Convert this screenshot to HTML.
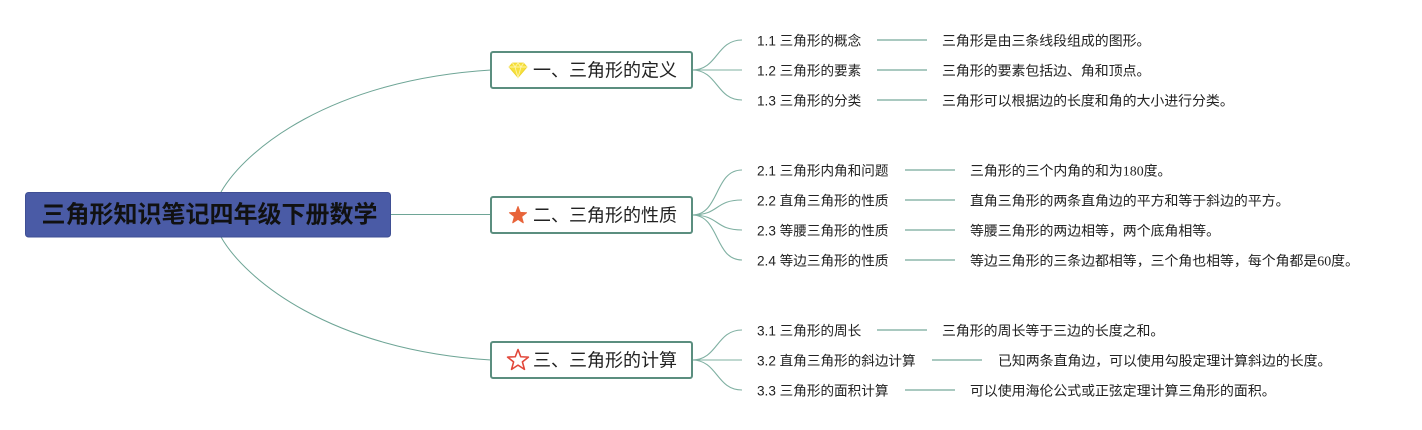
<!DOCTYPE html>
<html>
<head>
<meta charset="utf-8">
<style>
  html,body{margin:0;padding:0;background:#fff;}
  body{width:1422px;height:430px;overflow:hidden;}
  svg{display:block;}
  .c{font-family:"Liberation Sans","Noto Sans CJK SC",sans-serif;font-size:13.6px;fill:#222;}
  .d{font-family:"Liberation Serif","Noto Sans CJK SC",serif;font-size:13.9px;fill:#222;}
  .b{font-family:"Liberation Sans","Noto Sans CJK SC",sans-serif;font-size:18px;fill:#222;}
  .r{font-family:"Liberation Sans","Noto Sans CJK SC",sans-serif;font-size:24px;font-weight:bold;fill:#111;}
</style>
</head>
<body>
<svg width="1422" height="430" viewBox="0 0 1422 430" xmlns="http://www.w3.org/2000/svg">
  <!-- root connectors -->
  <g fill="none" stroke="#6ea596" stroke-width="1">
    <path d="M221,192 C245,150 330,80 491,70"/>
    <path d="M221,237 C245,279 330,350 491,360"/>
    <path d="M391,214.5 L491,214.5"/>
  </g>

  <!-- branch sub connectors -->
  <g fill="none" stroke="#7fb0a2" stroke-width="1.1">
    <path d="M692,70 C718,70 716,40 742,40"/>
    <path d="M692,70 L742,70"/>
    <path d="M692,70 C718,70 716,100 742,100"/>

    <path d="M692,215 C720,215 714,170 742,170"/>
    <path d="M692,215 C720,215 714,200 742,200"/>
    <path d="M692,215 C720,215 714,230 742,230"/>
    <path d="M692,215 C720,215 714,260 742,260"/>

    <path d="M692,360 C718,360 716,330 742,330"/>
    <path d="M692,360 L742,360"/>
    <path d="M692,360 C718,360 716,390 742,390"/>
  </g>

  <!-- horizontal detail connectors -->
  <g stroke="#a9c9c0" stroke-width="2">
    <line x1="877" y1="40" x2="927" y2="40"/>
    <line x1="877" y1="70" x2="927" y2="70"/>
    <line x1="877" y1="100" x2="927" y2="100"/>
    <line x1="905" y1="170" x2="955" y2="170"/>
    <line x1="905" y1="200" x2="955" y2="200"/>
    <line x1="905" y1="230" x2="955" y2="230"/>
    <line x1="905" y1="260" x2="955" y2="260"/>
    <line x1="877" y1="330" x2="927" y2="330"/>
    <line x1="932" y1="360" x2="982" y2="360"/>
    <line x1="905" y1="390" x2="955" y2="390"/>
  </g>

  <!-- root -->
  <rect x="25.5" y="192.5" width="365" height="44.5" rx="3" fill="#4a5ba6" stroke="#3f4f94" stroke-width="1"/>
  <text class="r" x="209.5" y="215" text-anchor="middle" dominant-baseline="central">三角形知识笔记四年级下册数学</text>

  <!-- branch boxes -->
  <g fill="#fff" stroke="#5b8e7f" stroke-width="2">
    <rect x="491" y="52" width="201" height="36" rx="2"/>
    <rect x="491" y="197" width="201" height="36" rx="2"/>
    <rect x="491" y="342" width="201" height="36" rx="2"/>
  </g>

  <!-- icons -->
  <g transform="translate(518,70)">
    <polygon points="-5.5,-7 5.5,-7 9,-3 0,7.5 -9,-3" fill="#f6e03c" stroke="#ecd22a" stroke-width="0.8"/>
    <polyline points="-9,-3 9,-3" fill="none" stroke="#fff4a8" stroke-width="0.9"/>
    <polyline points="-5.5,-7 -3,-3 0,7.5 3,-3 5.5,-7" fill="none" stroke="#fff4a8" stroke-width="0.9"/>
    <polyline points="-3,-3 0,-7 3,-3" fill="none" stroke="#fff4a8" stroke-width="0.9"/>
  </g>
  <g transform="translate(518,215.5)">
    <polygon points="0,-9 2.23,-3.07 8.56,-2.78 3.61,1.17 5.29,7.28 0,3.8 -5.29,7.28 -3.61,1.17 -8.56,-2.78 -2.23,-3.07" fill="#e8643a" stroke="#e8643a" stroke-width="1" stroke-linejoin="round"/>
  </g>
  <g transform="translate(518,360.5) scale(1.22)">
    <polygon points="0,-9 2.23,-3.07 8.56,-2.78 3.61,1.17 5.29,7.28 0,3.8 -5.29,7.28 -3.61,1.17 -8.56,-2.78 -2.23,-3.07" fill="none" stroke="#e2473a" stroke-width="1.3" stroke-linejoin="round"/>
  </g>

  <!-- branch labels -->
  <text class="b" x="533" y="70.5" dominant-baseline="central">一、三角形的定义</text>
  <text class="b" x="533" y="215.5" dominant-baseline="central">二、三角形的性质</text>
  <text class="b" x="533" y="360.5" dominant-baseline="central">三、三角形的计算</text>

  <!-- children -->
  <text class="c" x="757" y="41" dominant-baseline="central">1.1 三角形的概念</text>
  <text class="c" x="757" y="71" dominant-baseline="central">1.2 三角形的要素</text>
  <text class="c" x="757" y="101" dominant-baseline="central">1.3 三角形的分类</text>

  <text class="c" x="757" y="171" dominant-baseline="central">2.1 三角形内角和问题</text>
  <text class="c" x="757" y="201" dominant-baseline="central">2.2 直角三角形的性质</text>
  <text class="c" x="757" y="231" dominant-baseline="central">2.3 等腰三角形的性质</text>
  <text class="c" x="757" y="261" dominant-baseline="central">2.4 等边三角形的性质</text>

  <text class="c" x="757" y="331" dominant-baseline="central">3.1 三角形的周长</text>
  <text class="c" x="757" y="361" dominant-baseline="central">3.2 直角三角形的斜边计算</text>
  <text class="c" x="757" y="391" dominant-baseline="central">3.3 三角形的面积计算</text>

  <!-- details -->
  <text class="d" x="942" y="42" dominant-baseline="central">三角形是由三条线段组成的图形。</text>
  <text class="d" x="942" y="72" dominant-baseline="central">三角形的要素包括边、角和顶点。</text>
  <text class="d" x="942" y="102" dominant-baseline="central">三角形可以根据边的长度和角的大小进行分类。</text>

  <text class="d" x="970" y="172" dominant-baseline="central">三角形的三个内角的和为180度。</text>
  <text class="d" x="970" y="202" dominant-baseline="central">直角三角形的两条直角边的平方和等于斜边的平方。</text>
  <text class="d" x="970" y="232" dominant-baseline="central">等腰三角形的两边相等，两个底角相等。</text>
  <text class="d" x="970" y="262" dominant-baseline="central">等边三角形的三条边都相等，三个角也相等，每个角都是60度。</text>

  <text class="d" x="942" y="332" dominant-baseline="central">三角形的周长等于三边的长度之和。</text>
  <text class="d" x="998" y="362" dominant-baseline="central">已知两条直角边，可以使用勾股定理计算斜边的长度。</text>
  <text class="d" x="970" y="392" dominant-baseline="central">可以使用海伦公式或正弦定理计算三角形的面积。</text>
</svg>
</body>
</html>
